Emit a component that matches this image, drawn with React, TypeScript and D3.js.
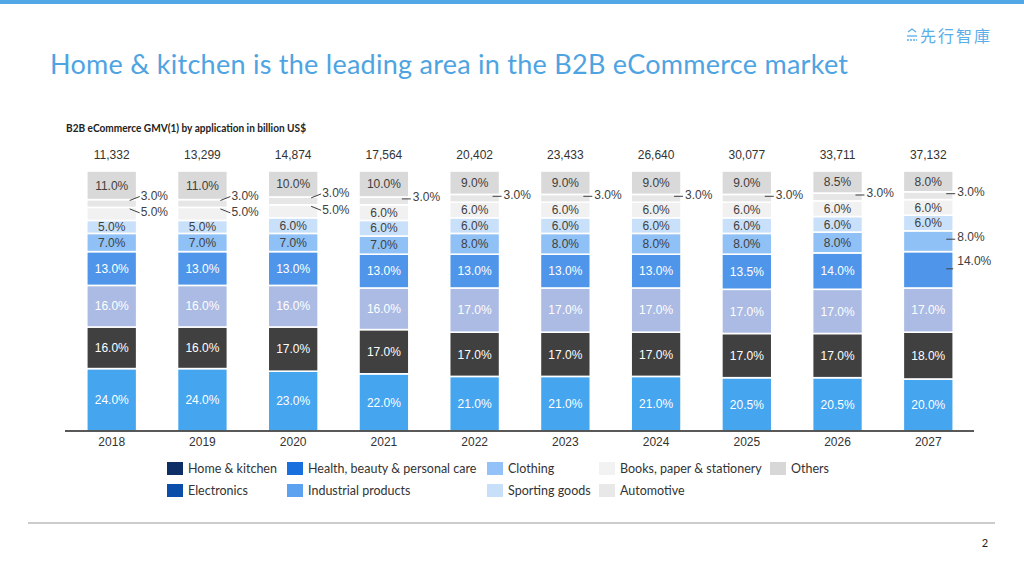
import React from 'react';
import * as d3 from 'd3';

const years = ['2018', '2019', '2020', '2021', '2022', '2023', '2024', '2025', '2026', '2027'];
const totals = [11332, 13299, 14874, 17564, 20402, 23433, 26640, 30077, 33711, 37132];

const seriesNames = [
  'Home & kitchen',
  'Electronics',
  'Health, beauty & personal care',
  'Industrial  products',
  'Clothing',
  'Sporting goods',
  'Books, paper & stationery',
  'Automotive',
  'Others',
];

// shares in %, bottom to top
const homeKitchen = [24, 24, 23, 22, 21, 21, 21, 20.5, 20.5, 20];
const electronics = [16, 16, 17, 17, 17, 17, 17, 17, 17, 18];
const healthBeauty = [16, 16, 16, 16, 17, 17, 17, 17, 17, 17];
const industrial = [13, 13, 13, 13, 13, 13, 13, 13.5, 14, 14];
const clothing = [7, 7, 7, 7, 8, 8, 8, 8, 8, 8];
const sporting = [5, 5, 6, 6, 6, 6, 6, 6, 6, 6];
const books = [5, 5, 5, 6, 6, 6, 6, 6, 6, 6];
const automotive = [3, 3, 3, 3, 3, 3, 3, 3, 3, 3];
const others = [11, 11, 10, 10, 9, 9, 9, 9, 8.5, 8];

const barColors = ['#45a5ef', '#404040', '#abbbe3', '#4f96ea', '#8fc0f6', '#c9e0fa', '#f1f1f1', '#e6e6e6', '#d9d9d9'];
const legendColors = ['#0d2f66', '#0b4ea9', '#1a6fdf', '#5ca2f1', '#92c2f7', '#c8dffa', '#f2f2f2', '#e8e8e8', '#d7d7d7'];
const whiteText = [true, true, true, true, false, false, false, false, false];

// labels drawn beside the bar with a leader line: [year index, series index]
const outsideLabels: [number, number][] = [
  [0, 7], [1, 7], [2, 7], [3, 7], [4, 7], [5, 7], [6, 7], [7, 7], [8, 7], [9, 7],
  [0, 6], [1, 6], [2, 6],
  [9, 4], [9, 3],
];

const W = 1024;
const H = 576;
const latin = 'Lato, "Noto Sans", sans-serif';
const arial = '"Liberation Sans", Arial, sans-serif';

export default function App() {
  const columns = [homeKitchen, electronics, healthBeauty, industrial, clothing, sporting, books, automotive, others];
  const rows = years.map((y, i) => {
    const r: any = { year: y };
    seriesNames.forEach((s, k) => (r[s] = columns[k][i]));
    return r;
  });
  const stacked = d3.stack().keys(seriesNames)(rows);

  const x = d3.scaleBand().domain(years).range([65, 975]).paddingInner(0.45).paddingOuter(0.24);
  const y = d3.scaleLinear().domain([0, 100]).range([431, 171]);
  const bw = x.bandwidth();
  const fmtPct = d3.format('.1f');
  const fmtTot = d3.format(',');

  const isOutside = (i: number, k: number) => outsideLabels.some(([a, b]) => a === i && b === k);

  const legendCols = [167, 287, 487, 599, 770];
  const legendRows = [469, 491];

  return (
    <svg width={W} height={H} style={{ position: 'absolute', left: 0, top: 0, background: '#fff' }}>
      <rect x={0} y={0} width={W} height={4} fill="#52a7e6" />

      {/* logo */}
      <g stroke="#5aaee8" strokeWidth={1.3} fill="none">
        <path d="M908,32 l4,-3 l4,3" />
        <path d="M907,36 h10" />
        <path d="M907,40 h10" strokeDasharray="2,1" />
      </g>
      <text x={920} y={42} fontSize={16} fill="#5aaee8" fontFamily='"Noto Sans CJK TC", sans-serif' letterSpacing={2}>
        先行智庫
      </text>

      <text x={50} y={74} fontSize={27} fill="#4ea4e2" fontFamily={latin} textLength={798} lengthAdjust="spacing">
        Home &amp; kitchen is the leading area in the B2B eCommerce market
      </text>

      <text x={66} y={132} fontSize={12} fontWeight={700} fill="#222" fontFamily={latin} textLength={240} lengthAdjust="spacingAndGlyphs">
        B2B eCommerce GMV(1) by application in billion US$
      </text>

      {/* bars */}
      {stacked.map((layer, k) => (
        <g key={layer.key}>
          {layer.map((d, i) => (
            <rect
              key={i}
              x={x(years[i])!}
              y={y(d[1])}
              width={bw}
              height={y(d[0]) - y(d[1])}
              fill={barColors[k]}
              stroke="#fff"
              strokeWidth={1.6}
            />
          ))}
        </g>
      ))}

      {/* segment labels */}
      {stacked.map((layer, k) =>
        layer.map((d, i) => {
          const cy = (y(d[0]) + y(d[1])) / 2;
          const x0 = x(years[i])!;
          const right = x0 + bw;
          const label = fmtPct(d[1] - d[0]) + '%';
          if (isOutside(i, k)) {
            const diag = i <= 2;
            let ly = cy - 4;
            let leader = `M${right - 7},${cy - 2} H${right + 2}`;
            if (diag && k === 7) {
              ly = cy - 8;
              leader = `M${right - 7},${cy - 3} L${right + 3},${cy - 7}`;
            } else if (diag && k === 6) {
              ly = cy - 2;
              leader = `M${right - 7},${cy - 5} L${right + 3},${cy - 1}`;
            } else if (k === 3) {
              ly = cy - 9;
              leader = `M${right - 7},${cy - 1} H${right}`;
            }
            return (
              <g key={`o${k}-${i}`}>
                <path d={leader} stroke="#404040" strokeWidth={1} fill="none" />
                <text x={right + 4} y={ly} dy="0.35em" fontSize={12} fill="#404040" fontFamily={arial}>
                  {label}
                </text>
              </g>
            );
          }
          return (
            <text
              key={`i${k}-${i}`}
              x={x0 + bw / 2}
              y={cy}
              dy="0.35em"
              textAnchor="middle"
              fontSize={12}
              fill={whiteText[k] ? '#fff' : '#404040'}
              fontFamily={arial}
            >
              {label}
            </text>
          );
        })
      )}

      {/* totals */}
      {years.map((yr, i) => (
        <text key={yr} x={x(yr)! + bw / 2} y={155} dy="0.35em" textAnchor="middle" fontSize={12} fill="#333" fontFamily={arial}>
          {fmtTot(totals[i])}
        </text>
      ))}

      {/* axis */}
      <line x1={65} x2={974} y1={431} y2={431} stroke="#222" strokeWidth={1.5} />
      {years.map((yr) => (
        <text key={yr} x={x(yr)! + bw / 2} y={442} dy="0.35em" textAnchor="middle" fontSize={12} fill="#333" fontFamily={arial}>
          {yr}
        </text>
      ))}

      {/* legend */}
      {seriesNames.map((s, k) => {
        const cx = legendCols[Math.floor(k / 2)];
        const cy = legendRows[k % 2];
        return (
          <g key={s}>
            <rect x={cx} y={cy - 7} width={16} height={13} fill={legendColors[k]} />
            <text x={cx + 21} y={cy} dy="0.35em" fontSize={12.5} fill="#333" fontFamily={latin}>
              {s}
            </text>
          </g>
        );
      })}

      <line x1={28} x2={995} y1={523} y2={523} stroke="#9a9a9a" strokeWidth={1.2} />
      <text x={985} y={547} fontSize={11} fill="#222" fontFamily={latin} textAnchor="middle">
        2
      </text>
    </svg>
  );
}
